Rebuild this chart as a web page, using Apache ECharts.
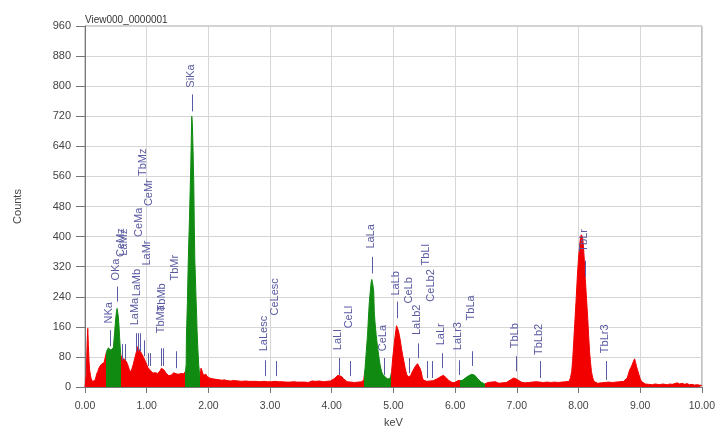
<!DOCTYPE html>
<html>
<head>
<meta charset="utf-8">
<script src="https://cdn.jsdelivr.net/npm/echarts@6/dist/echarts.min.js"></script>
<style>html,body{margin:0;padding:0;background:#fff;}#c{width:718px;height:433px;}</style>
</head>
<body>
<div id="c"></div>
<script>
// ---- spectrum segments: [keV, counts] ----
const segLow = [[0.00,0],[0.02,30],[0.035,120],[0.045,156],[0.055,110],[0.065,70],[0.075,45],[0.09,30],[0.10,22],[0.11,18],[0.12,15],[0.13,16],[0.14,20],[0.15,18],[0.16,17],[0.17,22],[0.18,28],[0.19,35],[0.20,38],[0.21,42],[0.22,48],[0.23,52],[0.24,55],[0.25,56],[0.26,60],[0.27,61],[0.28,58],[0.29,63],[0.30,62],[0.31,65],[0.32,66],[0.33,64]];
const segNO = [[0.34,70],[0.35,95],[0.36,100],[0.37,92],[0.38,104],[0.39,108],[0.40,102],[0.41,106],[0.42,98],[0.43,95],[0.44,100],[0.45,96],[0.46,105],[0.47,125],[0.48,145],[0.49,165],[0.50,185],[0.51,200],[0.52,209],[0.53,204],[0.54,188],[0.55,165],[0.56,135],[0.57,108],[0.58,85]];
const segM = [[0.59,80],[0.60,76],[0.62,78],[0.64,74],[0.655,72],[0.67,68],[0.69,60],[0.70,55],[0.72,46],[0.74,40],[0.76,48],[0.78,59],[0.80,72],[0.82,85],[0.84,98],[0.86,108],[0.87,102],[0.885,99],[0.90,94],[0.92,90],[0.94,82],[0.96,77],[0.98,68],[1.00,60],[1.02,52],[1.04,48],[1.06,44],[1.08,40],[1.10,37],[1.12,35],[1.14,38],[1.16,33],[1.18,36],[1.20,40],[1.22,44],[1.24,50],[1.26,52],[1.28,45],[1.30,40],[1.32,36],[1.34,33],[1.36,30],[1.38,34],[1.40,32],[1.42,36],[1.44,38],[1.46,40],[1.48,35],[1.50,32],[1.52,34],[1.54,31],[1.56,36],[1.58,38],[1.60,35],[1.62,40]];
const segSi = [[1.63,42],[1.64,60],[1.645,140],[1.66,225],[1.672,320],[1.685,400],[1.694,450],[1.705,525],[1.715,590],[1.722,650],[1.731,720],[1.74,700],[1.75,640],[1.763,545],[1.772,430],[1.78,340],[1.79,290],[1.80,235],[1.81,190],[1.817,150],[1.83,100],[1.843,60],[1.855,38],[1.866,26]];
const segMid = [[1.87,30],[1.88,50],[1.90,42],[1.92,31],[1.94,26],[1.96,34],[1.98,28],[2.00,32],[2.02,24],[2.04,28],[2.06,22],[2.08,26],[2.10,21],[2.12,25],[2.14,20],[2.16,23],[2.18,19],[2.20,22],[2.22,18],[2.24,21],[2.26,19],[2.28,20],[2.30,17],[2.33,19],[2.36,16],[2.39,21],[2.42,17],[2.45,19],[2.48,16],[2.51,18],[2.54,15],[2.57,20],[2.60,16],[2.63,18],[2.66,15],[2.69,17],[2.72,15],[2.75,19],[2.78,15],[2.81,16],[2.84,14],[2.87,18],[2.90,15],[2.93,17],[2.96,14],[2.99,16],[3.02,14],[3.05,18],[3.08,15],[3.11,17],[3.14,14],[3.17,16],[3.20,14],[3.23,17],[3.26,13],[3.29,15],[3.32,13],[3.35,16],[3.38,14],[3.41,17],[3.44,13],[3.47,15],[3.50,13],[3.53,16],[3.56,13],[3.59,15],[3.62,12],[3.65,14],[3.68,16],[3.71,12],[3.74,15],[3.77,13],[3.80,16],[3.83,12],[3.86,14],[3.89,13],[3.92,15],[3.95,12],[3.98,16],[4.01,18],[4.04,22],[4.07,27],[4.10,31],[4.13,33],[4.16,28],[4.19,22],[4.22,17],[4.25,14],[4.28,16],[4.31,13],[4.34,15],[4.37,12],[4.40,14],[4.43,13],[4.46,15],[4.49,14],[4.51,16]];
const segLa = [[4.52,20],[4.54,50],[4.56,95],[4.58,138],[4.60,200],[4.61,227],[4.625,255],[4.64,280],[4.65,286],[4.66,278],[4.67,268],[4.68,255],[4.69,200],[4.70,175],[4.72,138],[4.74,110],[4.76,85],[4.78,62],[4.795,50],[4.81,40],[4.83,33],[4.85,28],[4.87,26],[4.89,24],[4.91,21],[4.93,25],[4.95,24]];
const segLb = [[4.97,41],[4.99,80],[5.00,94],[5.015,118],[5.03,138],[5.05,163],[5.065,158],[5.08,150],[5.095,138],[5.11,125],[5.13,103],[5.15,84],[5.17,68],[5.19,50],[5.215,33],[5.24,27],[5.26,24],[5.28,30],[5.295,37],[5.32,45],[5.34,50],[5.36,56],[5.375,61],[5.39,62],[5.415,57],[5.43,50],[5.45,41],[5.465,28],[5.48,19],[5.51,16],[5.54,15],[5.57,13],[5.60,16],[5.62,14],[5.65,17],[5.68,19],[5.71,22],[5.75,26],[5.78,29],[5.81,31],[5.84,27],[5.86,24],[5.89,18],[5.91,15],[5.94,13],[5.98,11],[6.01,14],[6.05,17],[6.08,15]];
const segTb = [[6.09,15],[6.11,17],[6.13,19],[6.16,23],[6.18,26],[6.21,29],[6.24,31],[6.27,34],[6.30,33],[6.32,31],[6.35,26],[6.37,21],[6.40,16],[6.42,13],[6.45,10],[6.48,8]];
const segHigh = [[6.50,9],[6.53,12],[6.56,10],[6.59,13],[6.62,11],[6.65,14],[6.68,12],[6.71,10],[6.74,13],[6.77,11],[6.80,14],[6.83,12],[6.86,15],[6.89,18],[6.92,22],[6.95,24],[6.98,23],[7.01,20],[7.04,16],[7.07,13],[7.10,14],[7.13,11],[7.16,13],[7.19,12],[7.22,10],[7.25,13],[7.28,11],[7.31,14],[7.34,12],[7.37,13],[7.40,10],[7.43,12],[7.46,11],[7.49,13],[7.52,10],[7.55,12],[7.58,11],[7.61,13],[7.64,10],[7.67,12],[7.70,11],[7.73,13],[7.76,12],[7.79,14],[7.82,13],[7.85,15]];
const segCu = [[7.87,25],[7.89,41],[7.905,70],[7.92,112],[7.94,170],[7.96,227],[7.98,290],[8.00,341],[8.015,370],[8.03,394],[8.045,405],[8.055,407],[8.065,398],[8.08,376],[8.095,335],[8.11,288],[8.13,235],[8.15,182],[8.165,135],[8.18,94],[8.195,65],[8.21,41],[8.23,25],[8.25,15]];
const segTail = [[8.28,12],[8.31,10],[8.34,13],[8.37,11],[8.40,9],[8.43,12],[8.46,10],[8.49,13],[8.52,11],[8.55,12],[8.58,10],[8.61,13],[8.64,11],[8.67,14],[8.70,12],[8.73,15],[8.76,18],[8.79,24],[8.81,35],[8.83,46],[8.85,52],[8.87,59],[8.89,68],[8.91,75],[8.925,65],[8.94,55],[8.96,44],[8.98,33],[9.00,22],[9.02,15],[9.05,10],[9.08,8],[9.11,9],[9.14,7],[9.17,8],[9.20,6],[9.24,8],[9.28,7],[9.32,6],[9.36,8],[9.40,7],[9.44,6],[9.48,8],[9.52,7],[9.56,9],[9.60,11],[9.64,8],[9.68,10],[9.72,7],[9.76,9],[9.80,6],[9.84,7],[9.88,5],[9.92,6],[9.96,5],[10.00,4]];

// identified-peak bands (keV) drawn green
const greenBands = [[0.335,0.585],[1.625,1.868],[4.515,4.96],[6.085,6.485]];

// element line markers
const lineNames = ['NKa','OKa','CeMz','LaMz','LaMa','LaMb','CeMa','TbMz','LaMr','CeMr','TbMa','TbMb','TbMr','SiKa','LaLesc','CeLesc','LaLl','CeLl','LaLa','CeLa','LaLb','CeLb','LaLb2','TbLl','CeLb2','LaLr','LaLr3','TbLa','TbLb','TbLb2','TbLr','TbLr3'];
const lineKeV   = [0.40,0.52,0.60,0.645,0.83,0.855,0.885,0.955,1.02,1.05,1.24,1.265,1.47,1.73,2.92,3.10,4.12,4.29,4.65,4.85,5.05,5.26,5.40,5.55,5.62,5.79,6.07,6.27,6.98,7.37,8.10,8.44];
const markLo    = [108,227,71,71,95,95,95,82,56,56,56,56,50,733,29,29,32,29,302,32,183,37,77,24,24,50,32,56,42,24,294,19];
const markHi    = [151,267,114,114,143,143,143,124,90,90,103,103,95,778,71,69,77,69,346,77,227,77,116,69,69,90,71,95,82,69,336,69];
const textBase  = [169,283,346,349,164,241,399,561,323,481,143,201,283,796,95,190,98,156,368,95,243,222,138,323,227,111,98,177,103,85,360,90];

const RED = '#f20000', GREEN = '#108a10', LABEL = '#5a5aa2';
const FONT = 'Liberation Sans, Arial, sans-serif';

const spectrum = [].concat(segLow, segNO, segM, segSi, segMid, segLa, segLb, segTb, segHigh, segCu, segTail);

const pieces = [];
let prev = -1;
greenBands.forEach(b => {
  pieces.push({gte: prev, lt: b[0], color: RED});
  pieces.push({gte: b[0], lt: b[1], color: GREEN});
  prev = b[1];
});
pieces.push({gte: prev, lte: 11, color: RED});

const labelData = lineKeV.map((e, i) => [e, markLo[i], markHi[i], textBase[i]]);

const chart = echarts.init(document.getElementById('c'));
chart.setOption({
  animation: false,
  backgroundColor: '#fff',
  title: {
    text: 'View000_0000001', left: 85, top: 15, padding: 0,
    textStyle: {fontSize: 10, fontWeight: 'normal', color: '#333', fontFamily: FONT}
  },
  grid: {left: 85, right: 13, top: 26, bottom: 44, show: true, borderColor: '#a0a0a0', borderWidth: 1},
  xAxis: {
    type: 'value', min: 0, max: 10, interval: 1,
    name: 'keV', nameLocation: 'middle', nameGap: 30,
    nameTextStyle: {fontSize: 11, color: '#444', fontFamily: FONT},
    axisLine: {show: true, onZero: false, lineStyle: {color: '#777'}},
    axisTick: {show: true, length: 6, lineStyle: {color: '#777'}},
    axisLabel: {formatter: v => v.toFixed(2), color: '#444', fontSize: 10.5, margin: 14, fontFamily: FONT},
    splitLine: {show: true, lineStyle: {color: '#d6d6d6'}}
  },
  yAxis: {
    type: 'value', min: 0, max: 960, interval: 80,
    name: 'Counts', nameLocation: 'middle', nameGap: 62, nameRotate: 90,
    nameTextStyle: {fontSize: 11, color: '#444', fontFamily: FONT},
    axisLine: {show: true, lineStyle: {color: '#777'}},
    axisTick: {show: true, length: 9, lineStyle: {color: '#777'}},
    axisLabel: {color: '#444', fontSize: 11, margin: 14, fontFamily: FONT},
    splitLine: {show: true, lineStyle: {color: '#d6d6d6'}}
  },
  visualMap: {type: 'piecewise', show: false, dimension: 0, seriesIndex: 0, pieces: pieces},
  series: [
    {
      type: 'line', data: spectrum, showSymbol: false, symbol: 'none',
      lineStyle: {width: 1}, areaStyle: {opacity: 1}, z: 2
    },
    {
      type: 'custom', data: labelData, encode: {x: 0, y: 1}, z: 5, silent: true,
      renderItem: function (params, api) {
        const e = api.value(0);
        const p1 = api.coord([e, api.value(1)]);
        const p2 = api.coord([e, api.value(2)]);
        const p3 = api.coord([e, api.value(3)]);
        return {
          type: 'group',
          children: [
            {type: 'line', shape: {x1: Math.round(p1[0]) + 0.5, y1: p1[1], x2: Math.round(p2[0]) + 0.5, y2: p2[1]},
             style: {stroke: LABEL, lineWidth: 1}},
            {type: 'text', x: p3[0] - 1, y: p3[1], rotation: Math.PI / 2,
             style: {text: lineNames[params.dataIndex], fill: LABEL, font: '11px ' + FONT, align: 'left', verticalAlign: 'middle'}}
          ]
        };
      }
    }
  ]
});
</script>
</body>
</html>
